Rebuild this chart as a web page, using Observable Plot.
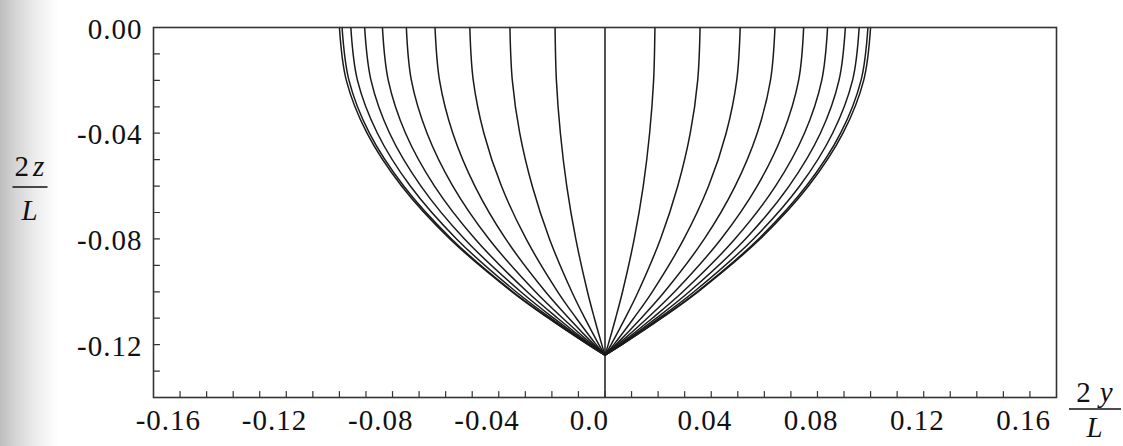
<!DOCTYPE html>
<html>
<head>
<meta charset="utf-8">
<script src="https://cdn.jsdelivr.net/npm/d3@7"></script>
<script src="https://cdn.jsdelivr.net/npm/@observablehq/plot@0.6"></script>
<style>
  html, body { margin: 0; padding: 0; width: 1123px; height: 446px; overflow: hidden;
    background: linear-gradient(90deg, #bdbdbd 0px, #d3d3d3 14px, #ebebeb 34px, #ffffff 58px); }
  #chart svg { display: block; }
</style>
</head>
<body>
<div id="chart"></div>
<script>
// Depths (2z/L) at which each section was read
const depth = [0, -0.02, -0.04, -0.06, -0.08, -0.10, -0.11, -0.12, -0.124];

// Half-breadths (2y/L) of each section curve at those depths (right half; left half is its mirror)
const sec1  = [0.0188, 0.0183, 0.0168, 0.0144, 0.0110, 0.0066, 0.0040, 0.0012, 0];
const sec2  = [0.0358, 0.0349, 0.0321, 0.0274, 0.0209, 0.0125, 0.0076, 0.0023, 0];
const sec3  = [0.0509, 0.0496, 0.0456, 0.0390, 0.0297, 0.0178, 0.0108, 0.0033, 0];
const sec4  = [0.0640, 0.0623, 0.0573, 0.0490, 0.0374, 0.0224, 0.0136, 0.0041, 0];
const sec5  = [0.0748, 0.0729, 0.0670, 0.0573, 0.0437, 0.0262, 0.0159, 0.0048, 0];
const sec6  = [0.0838, 0.0816, 0.0751, 0.0642, 0.0489, 0.0293, 0.0178, 0.0054, 0];
const sec7  = [0.0905, 0.0881, 0.0811, 0.0693, 0.0529, 0.0317, 0.0193, 0.0058, 0];
const sec8  = [0.0957, 0.0932, 0.0857, 0.0733, 0.0559, 0.0335, 0.0204, 0.0061, 0];
const sec9  = [0.0990, 0.0964, 0.0887, 0.0758, 0.0578, 0.0347, 0.0211, 0.0063, 0];
const sec10 = [0.1000, 0.0974, 0.0896, 0.0766, 0.0584, 0.0350, 0.0213, 0.0064, 0];
const sections = [sec1, sec2, sec3, sec4, sec5, sec6, sec7, sec8, sec9, sec10];

// Tick labels
const xLabelValues = [-0.16, -0.12, -0.08, -0.04, 0, 0.04, 0.08, 0.12, 0.16];
const xLabels = ["-0.16", "-0.12", "-0.08", "-0.04", "0.0", "0.04", "0.08", "0.12", "0.16"];
const yLabelValues = [0, -0.04, -0.08, -0.12];
const yLabels = ["0.00", "-0.04", "-0.08", "-0.12"];

// Minor tick positions (every 0.01)
const xMinor = d3.range(-16, 17).map(i => i / 100);
const yMinor = d3.range(-13, 0).map(i => i / 100);

const rows = [];
sections.forEach((sec, i) => {
  for (const side of [-1, 1]) {
    sec.forEach((v, j) => rows.push({id: `${i}_${side}`, x: side * v, z: depth[j]}));
  }
});

const xLab = xLabelValues.map((v, i) => ({v, label: xLabels[i]}));
const yLab = yLabelValues.map((v, i) => ({v, label: yLabels[i]}));

const tickShape = {draw(ctx, l) { ctx.moveTo(0, 0); ctx.lineTo(0, -l); }};
const FONT = "'Liberation Serif', 'Times New Roman', serif";

function axisTitles() {
  const g = d3.create("svg:g")
    .attr("font-family", FONT).attr("font-size", 29).attr("fill", "#111").attr("stroke", "none");
  const frac = (cx, numBase, barY, denBase, letter, gap, w) => {
    const t = g.append("text").attr("x", cx).attr("y", numBase).attr("text-anchor", "middle");
    t.append("tspan").text("2");
    t.append("tspan").attr("font-style", "italic").attr("dx", gap).text(letter);
    g.append("line").attr("x1", cx - w / 2).attr("x2", cx + w / 2)
      .attr("y1", barY).attr("y2", barY).attr("stroke", "#111").attr("stroke-width", 1.5);
    g.append("text").attr("x", cx).attr("y", denBase).attr("text-anchor", "middle")
      .attr("font-style", "italic").text("L");
  };
  frac(30, 176, 187, 220, "z", 3, 35);
  frac(1095, 402, 409, 437, "y", 8, 52);
  return g.node();
}

const chart = Plot.plot({
  width: 1123,
  height: 446,
  marginLeft: 153,
  marginRight: 67,
  marginTop: 27,
  marginBottom: 49,
  x: {domain: [-0.17, 0.17], axis: null},
  y: {domain: [-0.14, 0], axis: null},
  style: {background: "transparent", fontFamily: FONT, fontSize: "29px", letterSpacing: "1px", color: "#111"},
  marks: [
    Plot.ruleX([0], {y1: -0.14, y2: 0, stroke: "#1a1a1a", strokeWidth: 1.5}),
    Plot.line(rows, {x: "x", y: "z", z: "id", curve: "catmull-rom", stroke: "#1a1a1a", strokeWidth: 1.5}),
    Plot.vector(xMinor, {x: d => d, y: () => -0.14, length: 6, rotate: 0, anchor: "start",
      shape: tickShape, stroke: "#333", strokeWidth: 1.2}),
    Plot.vector(yMinor, {x: () => -0.17, y: d => d, length: 6, rotate: 90, anchor: "start",
      shape: tickShape, stroke: "#333", strokeWidth: 1.2}),
    Plot.frame({stroke: "#333", strokeWidth: 1.6}),
    Plot.text(xLab.filter(d => d.v !== 0), {x: "v", y: () => -0.14, text: "label", textAnchor: "end",
      dx: 21, dy: 23, fontSize: 29, fill: "#111"}),
    Plot.text(xLab.filter(d => d.v === 0), {x: "v", y: () => -0.14, text: "label", textAnchor: "end",
      dx: 4, dy: 23, fontSize: 29, fill: "#111"}),
    Plot.text(yLab, {x: () => -0.17, y: "v", text: "label", textAnchor: "end",
      dx: -11, dy: 2, fontSize: 29, fill: "#111"}),
    axisTitles
  ]
});
document.getElementById("chart").appendChild(chart);
</script>
</body>
</html>
